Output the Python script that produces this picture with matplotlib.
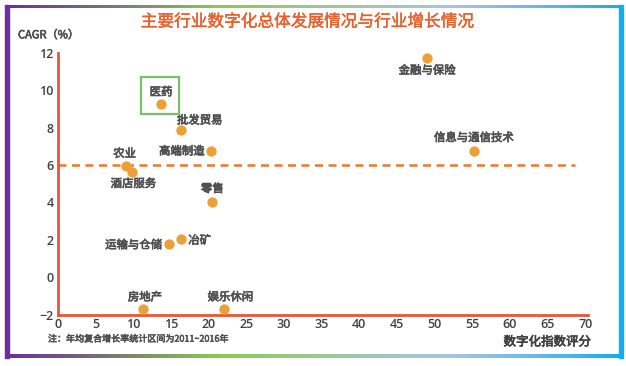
import matplotlib
matplotlib.use("Agg")
import matplotlib.pyplot as plt
import matplotlib.patheffects as pe
import numpy as np
from matplotlib.colors import LinearSegmentedColormap
from matplotlib.patches import Rectangle

plt.rcParams['font.family'] = ['Noto Sans CJK SC', 'DejaVu Sans']

# ---------------- data ----------------
industries = ['医药', '批发贸易', '高端制造', '农业', '酒店服务', '零售',
              '冶矿', '运输与仓储', '金融与保险', '信息与通信技术', '房地产', '娱乐休闲']
digital_score = [13.7, 16.3, 20.3, 9.0, 9.9, 20.5, 16.3, 14.7, 49.0, 55.2, 11.3, 22.1]
cagr = [9.26, 7.86, 6.75, 5.92, 5.65, 4.02, 2.02, 1.79, 11.7, 6.77, -1.69, -1.69]
avg_line = 6.0
xticks = list(range(0, 75, 5))
yticks = list(range(-2, 14, 2))
title = '主要行业数字化总体发展情况与行业增长情况'
ylabel = 'CAGR（%）'
xlabel = '数字化指数评分'
note = '注：年均复合增长率统计区间为2011~2016年'

# label offsets in pixels (dx right, dy up)
offsets = [(0, 12), (19, 10), (-29, 0), (-1, 13), (1, -12), (0, 13),
           (19, -1), (-35, -1), (0, -12), (0, 13), (2, 12), (6, 12)]

W, H = 626, 366
fig = plt.figure(figsize=(W / 100, H / 100), dpi=100)

bold = [pe.withStroke(linewidth=0.5, foreground='#505050')]

# ---------------- gradient frame ----------------
grad = LinearSegmentedColormap.from_list('g', [
    (0.0, '#6A2FA0'), (0.17, '#7A7772'), (0.35, '#8CCB50'),
    (0.5, '#9CC890'), (0.72, '#A8C4E0'), (0.85, '#6EB8EC'), (1.0, '#10AEF0')])

def hbar(x0, y0, x1, y1):
    ax_ = fig.add_axes([x0 / W, 1 - y1 / H, (x1 - x0) / W, (y1 - y0) / H])
    ax_.imshow(np.linspace(0, 1, 256)[None, :], aspect='auto', cmap=grad,
               extent=[0, 1, 0, 1])
    ax_.axis('off')

hbar(5, 5, 623, 8)
hbar(5, 354, 623, 358)
fig.patches.append(Rectangle((5 / W, 1 - 358 / H), 3.5 / W, 353 / H,
                             transform=fig.transFigure, color='#6A2FA0', zorder=0))
fig.patches.append(Rectangle((619 / W, 1 - 358 / H), 4 / W, 353 / H,
                             transform=fig.transFigure, color='#10AEF0', zorder=0))

# ---------------- main axes ----------------
ax = fig.add_axes([57.8 / W, 1 - 314.7 / H, (588 - 57.8) / W, (314.7 - 52.7) / H])
ax.set_xlim(0, 70.35)
ax.set_ylim(-2, 12)
ax.patch.set_alpha(0)
for s in ['top', 'right']:
    ax.spines[s].set_visible(False)
for s in ['left', 'bottom']:
    ax.spines[s].set_color('#E8553A')
    ax.spines[s].set_linewidth(2)
ax.set_xticks(xticks)
ax.set_yticks(yticks)
ax.tick_params(length=0, labelsize=9, colors='#404040')
ax.tick_params(axis='x', pad=2.5)
ax.tick_params(axis='y', pad=3)
for lab in ax.get_xticklabels() + ax.get_yticklabels():
    lab.set_fontfamily(['Open Sans', 'DejaVu Sans'])
    lab.set_fontweight('semibold')

ax.plot([0, 68.6], [avg_line, avg_line], ls=(0, (3.2, 2.2)), color='#E87A2C', lw=1.8, zorder=2)

ax.scatter(digital_score, cagr, s=55, color='#EDA035', zorder=3, linewidths=0)

for name, x, y, (dx, dy) in zip(industries, digital_score, cagr, offsets):
    ax.annotate(name, (x, y), xytext=(dx * 0.72, dy * 0.72), textcoords='offset points',
                ha='center', va='center', fontsize=8.2, color='#505050', path_effects=bold)

# highlight box around 医药
ax.add_patch(Rectangle((11.1, 8.73), 5.0, 1.99, fill=False, edgecolor='#7DBE6A', lw=1.6, zorder=4))

# ---------------- texts ----------------
fig.text(307 / W, 1 - 22 / H, title, ha='center', va='center', fontsize=12, color='#E8602C',
         path_effects=[pe.withStroke(linewidth=0.3, foreground='#E8602C')])
fig.text(18 / W, 1 - 35 / H, ylabel, ha='left', va='center', fontsize=8, color='#505050',
         path_effects=bold)
fig.text(48 / W, 1 - 339 / H, note, ha='left', va='center', fontsize=6.5, color='#505050',
         path_effects=[pe.withStroke(linewidth=0.4, foreground='#505050')])
fig.text(591 / W, 1 - 342 / H, xlabel, ha='right', va='center', fontsize=9, color='#404040',
         path_effects=[pe.withStroke(linewidth=0.5, foreground='#404040')])

fig.savefig('out.png', dpi=100)
